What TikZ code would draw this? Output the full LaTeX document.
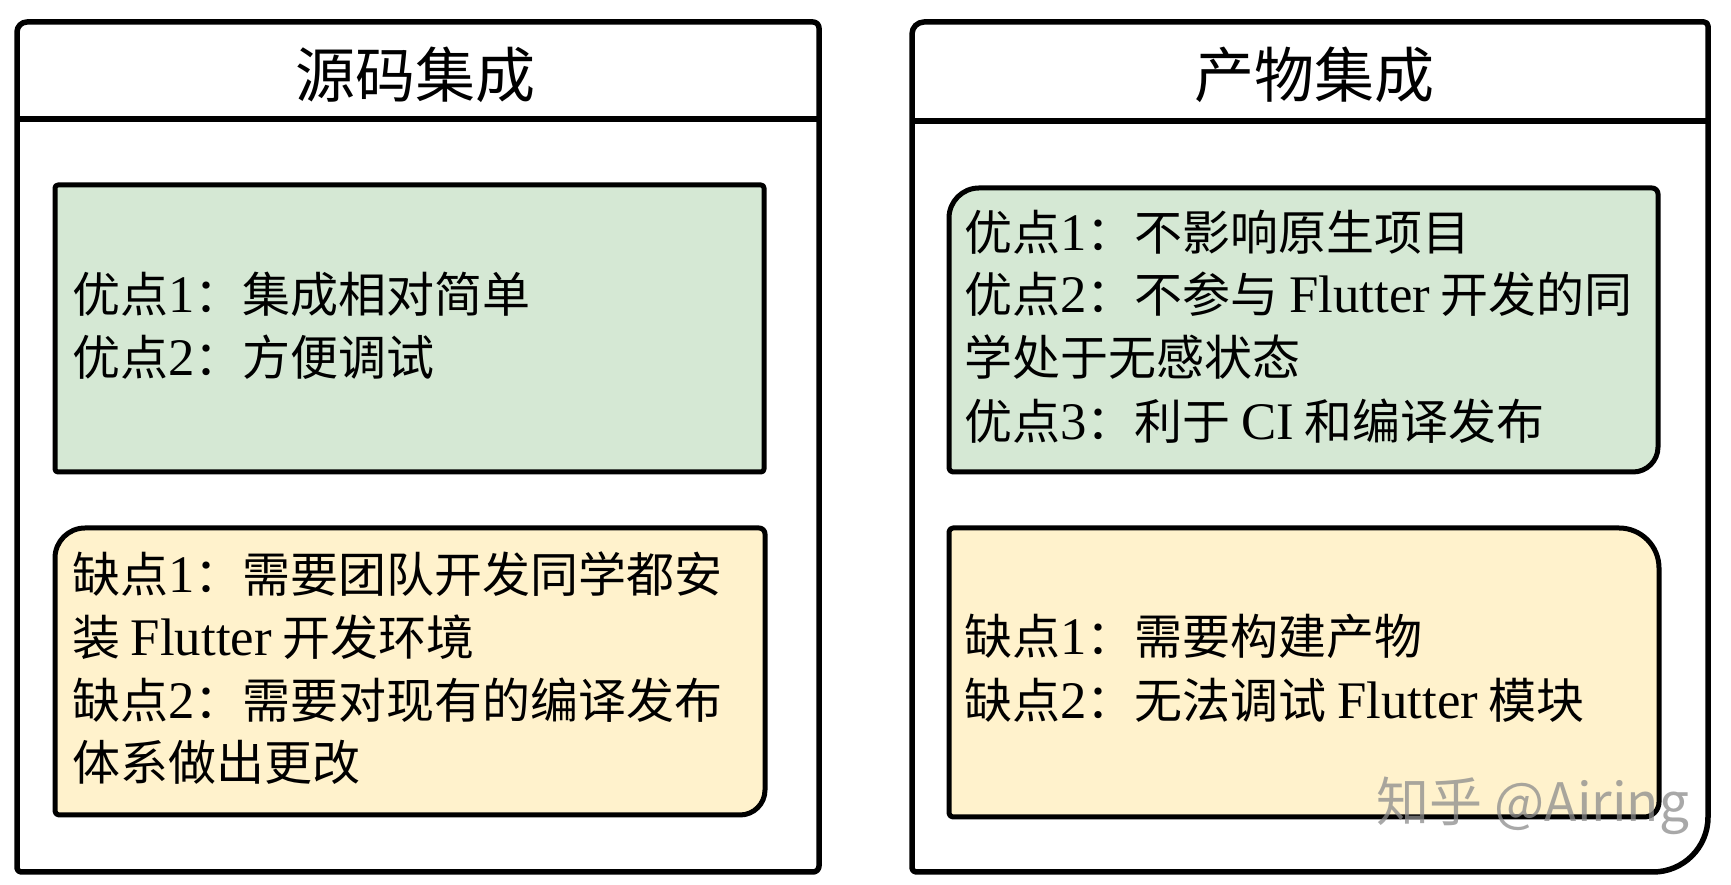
\documentclass[tikz,border=0pt]{standalone}
\usepackage{fontspec}
\setmainfont{Noto Sans CJK SC}
\newfontfamily\latfont[Scale=1.1]{Liberation Serif}
\newfontfamily\wmfont{Noto Sans CJK SC}
\newcommand\lat[1]{{\latfont #1}}
\definecolor{boxgreen}{HTML}{D5E8D4}
\definecolor{boxyellow}{HTML}{FFF2CC}
% \rbox{x1}{y1 bottom}{x2}{y2 top}{rTL}{rTR}{rBR}{rBL}
\newcommand\rbox[8]{%
  ({#1},{#4-#5}) -- ({#1},{#2+#8}) arc[start angle=180,end angle=270,radius=#8pt]
  -- ({#3-#7},{#2}) arc[start angle=270,end angle=360,radius=#7pt]
  -- ({#3},{#4-#6}) arc[start angle=0,end angle=90,radius=#6pt]
  -- ({#1+#5},{#4}) arc[start angle=90,end angle=180,radius=#5pt] -- cycle}
\begin{document}
\begin{tikzpicture}[x=1pt,y=1pt,
  outer/.style={draw=black,line width=5.5pt,line join=round,fill=white},
  inner/.style={draw=black,line width=5pt,line join=round},
  txt/.style={anchor=base west,inner sep=0pt,font=\fontsize{48}{58}\selectfont},
  ttl/.style={inner sep=0pt,font=\fontsize{60}{70}\selectfont},
  wm/.style={inner sep=0pt,text=black!45,opacity=0.75,font=\wmfont\fontsize{53}{63}\selectfont}]
\useasboundingbox[fill=white] (0,0) rectangle (1731,885);
% outer frames
\draw[outer] \rbox{17}{13}{819}{863}{10}{6}{6}{4};
\draw[outer] (17,766) -- (819,766);
\draw[outer] \rbox{912}{13}{1708}{863}{12}{4}{55}{4};
\draw[outer] (912,764) -- (1708,764);
% titles
\node[ttl] (t1) at (415,810) {源码集成};
\node[ttl] (t2) at (1314,810) {产物集成};
% inner boxes
\draw[inner,fill=boxgreen] \rbox{55}{413}{764}{700}{3}{3}{3}{3};
\draw[inner,fill=boxyellow] \rbox{55}{70}{765}{357}{30}{6}{25}{4};
\draw[inner,fill=boxgreen] \rbox{949}{413}{1658}{697}{30}{6}{25}{4};
\draw[inner,fill=boxyellow] \rbox{949}{68}{1659}{357}{4}{40}{15}{4};
% left green
\node[txt] (la1) at (72,572) {优点\lat{1}：集成相对简单};
\node[txt] (la2) at (72,509) {优点\lat{2}：方便调试};
% left yellow
\node[txt] (lb1) at (72,292) {缺点\lat{1}：需要团队开发同学都安};
\node[txt] (lb2) at (72,229) {装 \lat{Flutter} 开发环境};
\node[txt] (lb3) at (72,166) {缺点\lat{2}：需要对现有的编译发布};
\node[txt] (lb4) at (72,104) {体系做出更改};
% right green
\node[txt] (ra1) at (964,634) {优点\lat{1}：不影响原生项目};
\node[txt] (ra2) at (964,572) {优点\lat{2}：不参与 \lat{Flutter} 开发的同};
\node[txt] (ra3) at (964,509) {学处于无感状态};
\node[txt] (ra4) at (964,445) {优点\lat{3}：利于 \lat{CI} 和编译发布};
% right yellow
\node[txt] (rb1) at (964,230) {缺点\lat{1}：需要构建产物};
\node[txt] (rb2) at (964,166) {缺点\lat{2}：无法调试 \lat{Flutter} 模块};
% watermark
\node[wm] (wm) at (1533,79) {知乎 @Airing};
\end{tikzpicture}
\end{document}
